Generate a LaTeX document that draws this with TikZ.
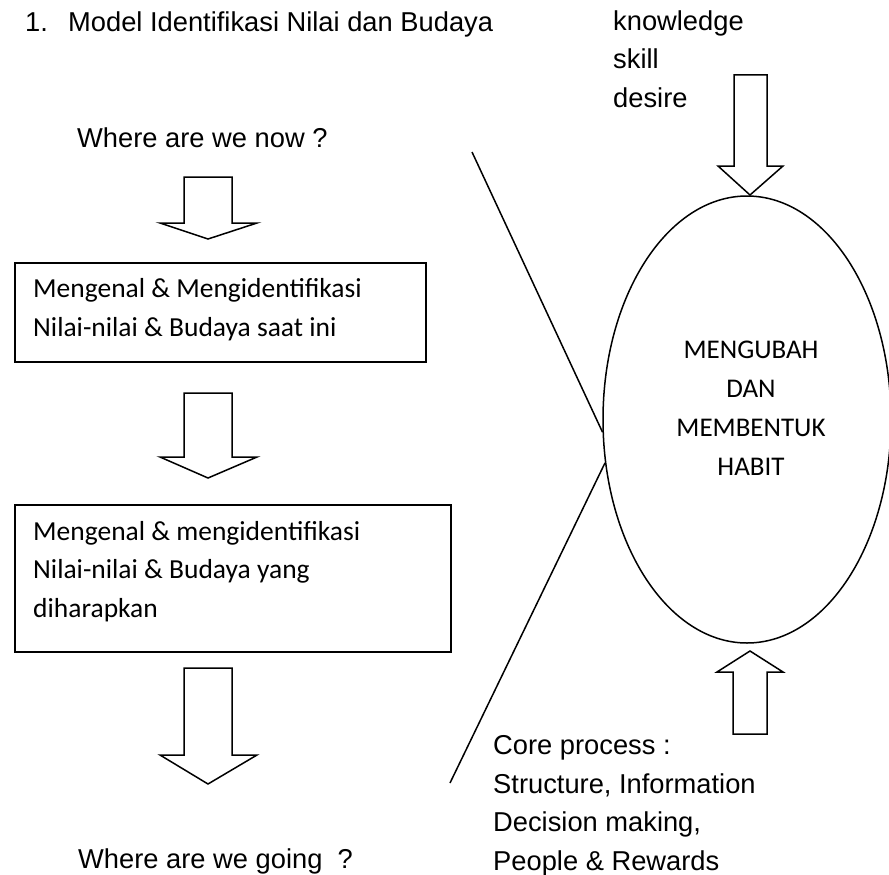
\documentclass[tikz,border=0pt]{standalone}
\usepackage{fontspec}
\setmainfont{Liberation Sans}
\newfontfamily\boxfont{Carlito}
\usetikzlibrary{shapes.geometric}

\begin{document}
\begin{tikzpicture}[x=1pt,y=-1pt,
  plain/.style={anchor=base west, inner sep=0pt, font=\fontsize{27.3}{38.5}\selectfont},
  boxtext/.style={anchor=base west, inner sep=0pt, align=left, font=\boxfont\fontsize{27.5}{38.3}\selectfont},
  frame/.style={draw, line width=2pt, inner sep=0pt, anchor=north west},
  blockarrow/.style={draw, line width=1.5pt, line join=miter, fill=white},
  guide/.style={line width=1.5pt}
]
\useasboundingbox (0,0) rectangle (889,875);

% heading and side labels (multi-line nodes sit on the baseline of their last line)
\node[plain] (num) at (25,32) {1.};
\node[plain] (title) at (68,32) {Model Identifikasi Nilai dan Budaya};
\node[plain, align=left] (inputs) at (613,107) {knowledge\\skill\\desire};
\node[plain] (now) at (77,147) {Where are we now ?};
\node[plain] (going) at (78,868) {Where are we going\ \ ?};
\node[plain, align=left] (core) at (493,870) {Core process :\\Structure, Information\\Decision making,\\People \& Rewards};

% the two stages
\node[frame, minimum width=411pt, minimum height=99pt] (box1) at (14,262) {};
\node[boxtext] (box1text) at (33,336) {Mengenal \& Mengidentifikasi\\Nilai-nilai \& Budaya saat ini};
\node[frame, minimum width=436pt, minimum height=147pt] (box2) at (14,504) {};
\node[boxtext] (box2text) at (33,617) {Mengenal \& mengidentifikasi\\Nilai-nilai \& Budaya yang\\diharapkan};

% central ellipse
\node[draw, ellipse, line width=1.5pt, minimum width=288pt, minimum height=447pt, inner sep=0pt] (habit) at (747,419.5) {};
\node[anchor=base, inner sep=0pt, align=center, font=\boxfont\fontsize{27}{38.7}\selectfont] (habittext) at (751,475) {MENGUBAH\\DAN\\MEMBENTUK\\HABIT};

% wedge lines
\coordinate (wedgetop) at (472,152);
\coordinate (wedgebot) at (450,783);
\draw[guide] (wedgetop) -- (habit.185);
\draw[guide] (habit.197) -- (wedgebot);

% hollow block arrows, left column
\draw[blockarrow] (184,177) -- (232,177) -- (232,223) -- (257,223) -- (208,239) -- (160,223) -- (184,223) -- cycle;
\draw[blockarrow] (184,393) -- (232,393) -- (232,457) -- (257,457) -- (208,478) -- (160,457) -- (184,457) -- cycle;
\draw[blockarrow] (184,668) -- (232,668) -- (232,755) -- (257,755) -- (208,784) -- (160,755) -- (184,755) -- cycle;

% hollow block arrows into the ellipse
\draw[blockarrow] (734,75) -- (767,75) -- (767,166) -- (783,166) -- (750,195) -- (718,166) -- (734,166) -- cycle;
\draw[blockarrow] (733,734) -- (767,734) -- (767,672) -- (783,672) -- (750,651) -- (717,672) -- (733,672) -- cycle;
\end{tikzpicture}
\end{document}
